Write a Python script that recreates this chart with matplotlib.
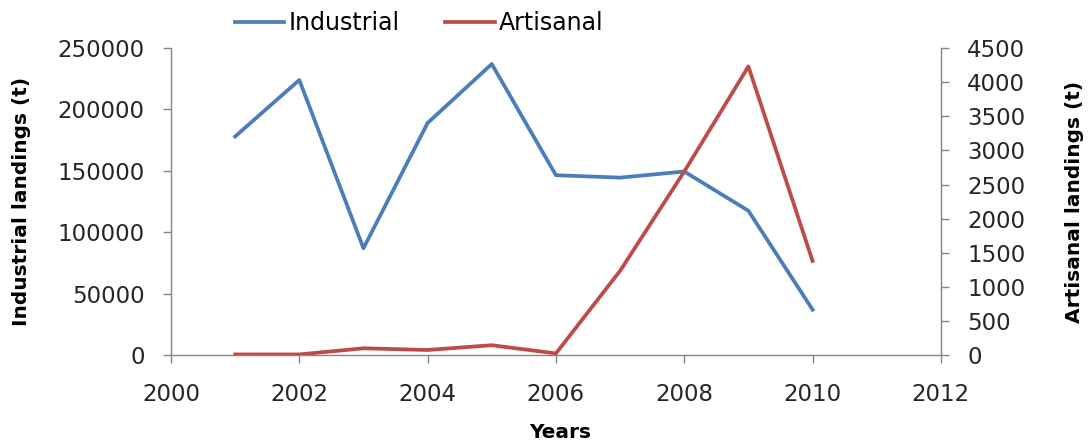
import numpy as np
import matplotlib.pyplot as plt

plt.rcParams['font.family'] = ['DejaVu Sans']

years = [2001, 2002, 2003, 2004, 2005, 2006, 2007, 2008, 2009, 2010]
industrial = [178000, 224000, 87000, 189000, 237000, 146500, 144500, 149500, 117500, 37000]
artisanal = [10, 10, 100, 75, 145, 25, 1235, 2690, 4230, 1380]

grey = '#868686'
blue = '#4A7EBB'
red = '#BE4B48'

fig = plt.figure(figsize=(10.89, 4.45), dpi=100)
ax = fig.add_axes([0.157, 0.202, 0.707, 0.690])
ax2 = ax.twinx()

l1, = ax.plot(years, industrial, color=blue, lw=2.7, label='Industrial')
l2, = ax2.plot(years, artisanal, color=red, lw=2.7, label='Artisanal')

ax.set_xlim(2000, 2012)
ax.set_xticks(np.arange(2000, 2013, 2))
ax.set_ylim(0, 250000)
ax.set_yticks(np.arange(0, 250001, 50000))
ax2.set_ylim(0, 4500)
ax2.set_yticks(np.arange(0, 4501, 500))

for a in (ax, ax2):
    a.spines['top'].set_visible(False)
    for s in a.spines.values():
        s.set_color(grey)
        s.set_linewidth(1.0)
    a.tick_params(colors=grey, labelcolor='#262626', labelsize=16.5, length=6, width=1.0, pad=13)

ax.spines['right'].set_visible(False)
ax2.spines['left'].set_visible(False)
ax2.spines['bottom'].set_visible(False)
ax.tick_params(axis='x', pad=14)

ax.set_ylabel('Industrial landings (t)', fontsize=14.5, fontweight='bold')
ax2.set_ylabel('Artisanal landings (t)', fontsize=14.5, fontweight='bold')
ax.set_xlabel('Years', fontsize=14.5, fontweight='bold')
ax.yaxis.set_label_coords(-0.1935, 0.5)
ax2.yaxis.set_label_coords(1.174, 0.5)
ax.xaxis.set_label_coords(0.505, -0.251)
ax.xaxis.label.set_va('center')
ax.yaxis.label.set_va('center')
ax2.yaxis.label.set_va('center')

fig.legend(handles=[l1, l2], loc='center', bbox_to_anchor=(0.385, 0.948), ncol=2,
           frameon=False, fontsize=17, handlelength=2.1, handletextpad=0.2,
           columnspacing=1.9)

fig.savefig('out.png', dpi=100)
